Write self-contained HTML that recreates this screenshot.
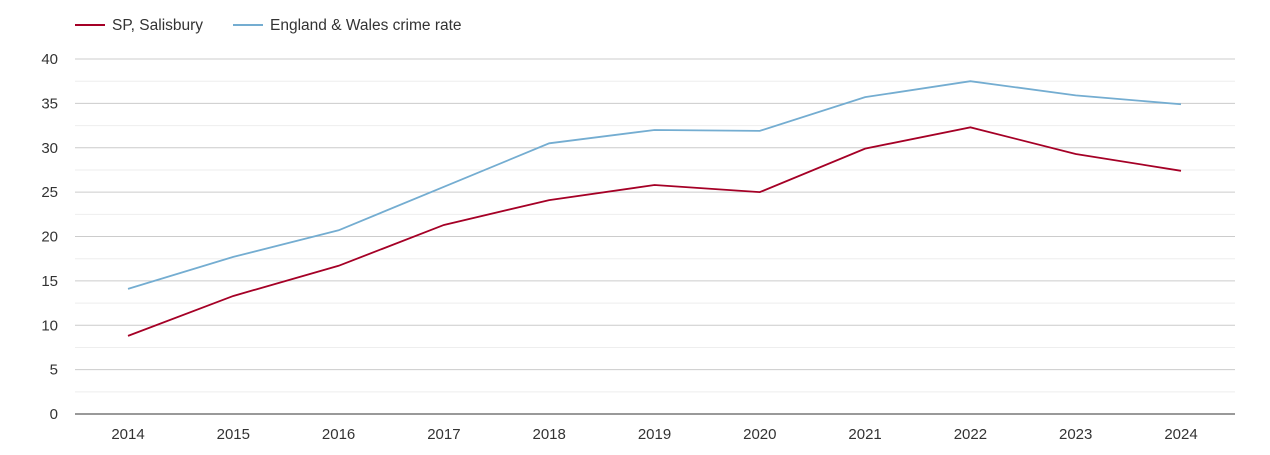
<!DOCTYPE html>
<html><head><meta charset="utf-8"><style>
body{margin:0;background:#fff;font-family:"Liberation Sans",sans-serif;}
svg text{font-family:"Liberation Sans",sans-serif;}
</style></head><body>
<svg id="chart" width="1270" height="450">
<g>
<g><line x1="75" y1="25" x2="105" y2="25" stroke="#a50026" stroke-width="2"/><text x="112" y="30" font-size="15.5" fill="#333">SP, Salisbury</text></g>
<g><line x1="233" y1="25" x2="263" y2="25" stroke="#74add1" stroke-width="2"/><text x="270" y="30" font-size="15.5" fill="#333">England &amp; Wales crime rate</text></g>
</g>
<g id="grid"></g>
<g id="axes"></g>
<g id="series"></g>
</svg>
<script>
const years=[2014,2015,2016,2017,2018,2019,2020,2021,2022,2023,2024];
const salisbury=[8.8,13.3,16.7,21.3,24.1,25.8,25.0,29.9,32.3,29.3,27.4];
const englandWales=[14.1,17.7,20.7,25.6,30.5,32.0,31.9,35.7,37.5,35.9,34.9];
const yTicks=[0,5,10,15,20,25,30,35,40];
const NS="http://www.w3.org/2000/svg";
const x0=75,x1=1235,y0=414,y1=59,yMax=40;
function xs(i){return 128+i*(1181-128)/(years.length-1);}
function ys(v){return y0-(v/yMax)*(y0-y1);}
function mk(tag,attrs,parent){const e=document.createElementNS(NS,tag);for(const k in attrs)e.setAttribute(k,attrs[k]);parent.appendChild(e);return e;}
const grid=document.getElementById('grid'),axes=document.getElementById('axes'),series=document.getElementById('series');
for(let v=2.5;v<yMax;v+=5){const l=mk('line',{x1:x0,x2:x1,y1:ys(v),y2:ys(v),stroke:'#eeeeee'},grid);

}
yTicks.forEach(v=>{
 if(v>0){const l=mk('line',{x1:x0,x2:x1,y1:ys(v),y2:ys(v),stroke:'#cccccc'},grid);
 
 }
 const t=mk('text',{x:58,y:ys(v)+5,'text-anchor':'end','font-size':15,fill:'#333'},axes);t.textContent=v;
 
 
});
const ax=mk('line',{x1:x0,x2:x1,y1:y0,y2:y0,stroke:'#333'},axes);


years.forEach((y,i)=>{
 const t=mk('text',{x:xs(i),y:439,'text-anchor':'middle','font-size':15,fill:'#333'},axes);t.textContent=y;
 
 
});
function line(data,color,name){
 const p=mk('polyline',{points:data.map((v,i)=>xs(i)+','+ys(v)).join(' '),fill:'none',stroke:color,'stroke-width':1.8},series);
 
 
}
line(englandWales,'#74add1','england-wales-line');
line(salisbury,'#a50026','salisbury-line');
</script>
</body></html>
